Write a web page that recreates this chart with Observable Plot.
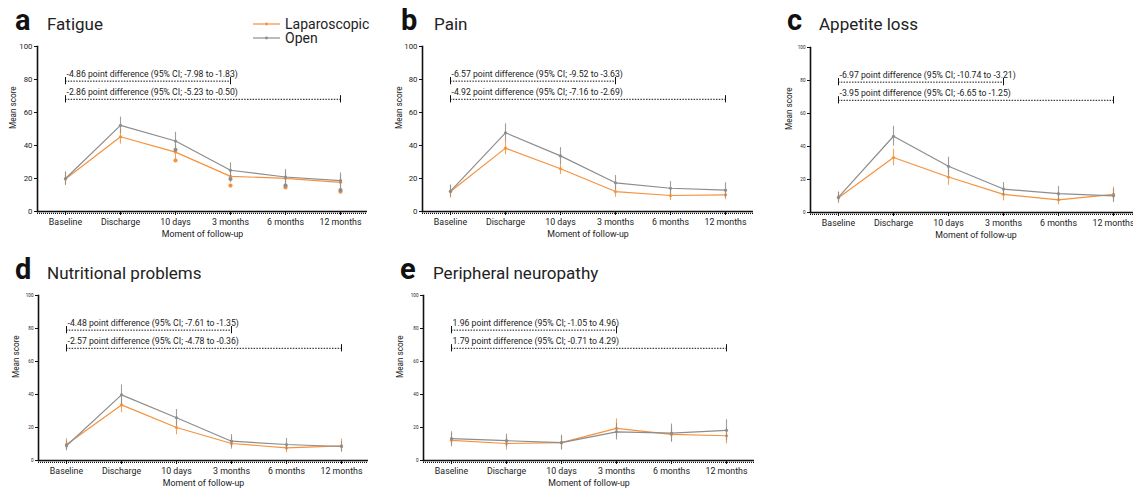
<!DOCTYPE html>
<html><head><meta charset="utf-8">
<script src="https://cdn.jsdelivr.net/npm/d3@7"></script>
<script src="https://cdn.jsdelivr.net/npm/@observablehq/plot@0.6"></script>
<style>
html,body{margin:0;padding:0;background:#fff;overflow:hidden;}
#root{position:relative;width:1133px;height:489px;overflow:hidden;font-family:Roboto,"Noto Sans",sans-serif;}
#root > svg, #root > figure{position:absolute;margin:0;}
</style></head><body><div id="root"></div>
<script>
// ---------- data ----------
const moments = ["Baseline", "Discharge", "10 days", "3 months", "6 months", "12 months"];
const groups = ["Laparoscopic", "Open"];
const groupColors = ["#F5923E", "#8D8D8D"];
const panelLetters = ["a", "b", "c", "d", "e"];
const panelTitles = ["Fatigue", "Pain", "Appetite loss", "Nutritional problems", "Peripheral neuropathy"];
const yTicks = [0, 20, 40, 60, 80, 100];

// Fatigue
const fatigueLap = [19.7, 45.3, 36.0, 21.3, 20.1, 17.7];
const fatigueLapErr = [4, 4.5, 4.5, 4, 4, 4];
const fatigueOpen = [20.0, 52.2, 42.7, 25.0, 20.9, 18.7];
const fatigueOpenErr = [4, 5, 5.3, 4.5, 4.5, 4.7];
const fatigueExtraLap = [null, null, 30.9, 15.7, 14.6, 12.0];
const fatigueExtraOpen = [null, null, 37.4, 19.7, 15.7, 13.0];
// Pain
const painLap = [12.1, 38.4, 25.9, 12.1, 9.7, 10.1];
const painLapErr = [4, 4, 3.5, 3.5, 3, 3];
const painOpen = [12.3, 47.7, 33.7, 17.4, 14.1, 12.9];
const painOpenErr = [3.5, 5.4, 5, 4.4, 4, 4.5];
// Appetite loss
const appetiteLap = [8.9, 33.3, 21.5, 11.0, 7.7, 11.0];
const appetiteLapErr = [3.5, 5, 5, 4, 3, 4.4];
const appetiteOpen = [9.3, 46.2, 28.0, 14.2, 11.4, 10.1];
const appetiteOpenErr = [3, 6, 5.5, 4, 4.4, 4];
// Nutritional problems
const nutritionLap = [9.7, 33.7, 20.0, 10.3, 7.7, 8.9];
const nutritionLapErr = [3.5, 4.8, 4.4, 3.5, 3, 4];
const nutritionOpen = [8.9, 39.8, 25.9, 11.7, 9.7, 8.5];
const nutritionOpenErr = [3, 6, 5, 4, 3.6, 3];
// Peripheral neuropathy
const neuropathyLap = [12.2, 10.3, 10.8, 19.5, 15.8, 15.0];
const neuropathyLapErr = [4, 4, 4, 5.7, 4.5, 5];
const neuropathyOpen = [13.2, 12.0, 10.8, 17.4, 16.6, 18.3];
const neuropathyOpenErr = [4.2, 4, 4.5, 5, 5.5, 6.4];

// difference annotations (upper: baseline to 3 months, lower: baseline to 12 months)
const diffUpper = [
  "-4.86 point difference (95% CI; -7.98 to -1.83)",
  "-6.57 point difference (95% CI; -9.52 to -3.63)",
  "-6.97 point difference (95% CI; -10.74 to -3.21)",
  "-4.48 point difference (95% CI; -7.61 to -1.35)",
  "1.96 point difference (95% CI; -1.05 to 4.96)"
];
const diffLower = [
  "-2.86 point difference (95% CI; -5.23 to -0.50)",
  "-4.92 point difference (95% CI; -7.16 to -2.69)",
  "-3.95 point difference (95% CI; -6.65 to -1.25)",
  "-2.57 point difference (95% CI; -4.78 to -0.36)",
  "1.79 point difference (95% CI; -0.71 to 4.29)"
];
const bracketY = [79, 68];
const bracketEnd = ["3 months", "12 months"];

const panelData = [
  [fatigueLap, fatigueLapErr, fatigueOpen, fatigueOpenErr],
  [painLap, painLapErr, painOpen, painOpenErr],
  [appetiteLap, appetiteLapErr, appetiteOpen, appetiteOpenErr],
  [nutritionLap, nutritionLapErr, nutritionOpen, nutritionOpenErr],
  [neuropathyLap, neuropathyLapErr, neuropathyOpen, neuropathyOpenErr]
];

// ---------- layout ----------
const FONT = "Roboto, 'Noto Sans', sans-serif";
const layout = [
  {left: 0,   top: 40,  ml: 37, fw: 330, tickFont: 7.8, yLabDx: -24},
  {left: 385, top: 40,  ml: 37, fw: 331, tickFont: 7.8, yLabDx: -23},
  {left: 770, top: 41,  ml: 40, fw: 331, tickFont: 4.6, yLabDx: -21},
  {left: 0,   top: 289, ml: 38, fw: 330, tickFont: 4.6, yLabDx: -22},
  {left: 385, top: 289, ml: 38, fw: 331, tickFont: 4.6, yLabDx: -23}
];
const titlePos = [
  {lx: 15, tx: 47, y: 30},
  {lx: 401, tx: 434, y: 30},
  {lx: 787, tx: 819, y: 30},
  {lx: 15, tx: 47, y: 279},
  {lx: 400, tx: 433, y: 279}
];

const root = document.getElementById("root");

function buildRows(i) {
  const [lap, lapErr, open, openErr] = panelData[i];
  const rows = [];
  moments.forEach((m, j) => {
    rows.push({moment: m, group: groups[0], value: lap[j], err: lapErr[j]});
    rows.push({moment: m, group: groups[1], value: open[j], err: openErr[j]});
  });
  return rows;
}

panelData.forEach((_, i) => {
  const L = layout[i];
  const rows = buildRows(i);
  const lapRows = rows.filter(d => d.group === groups[0]);
  const openRows = rows.filter(d => d.group === groups[1]);
  const brackets = [0, 1].map(k => ({
    x1: moments[0], x2: bracketEnd[k], y: bracketY[k],
    label: k === 0 ? diffUpper[i] : diffLower[i]
  }));
  const bracketEnds = brackets.flatMap(b => [{x: b.x1, y: b.y}, {x: b.x2, y: b.y}]);
  const extras = [];
  if (i === 0) {
    moments.forEach((m, j) => {
      if (fatigueExtraLap[j] != null) extras.push({moment: m, group: groups[0], value: fatigueExtraLap[j]});
      if (fatigueExtraOpen[j] != null) extras.push({moment: m, group: groups[1], value: fatigueExtraOpen[j]});
    });
  }
  const marks = [
    Plot.axisY({ticks: yTicks, tickSize: 3, tickPadding: 2, fontSize: L.tickFont, label: null, tickFormat: d => d, fill: "#222"}),
    Plot.axisX({tickSize: 4, tickPadding: 3, fontSize: 8.8, label: null, fill: "#222"}),
    Plot.frame({anchor: "left", strokeWidth: 1.6}),
    Plot.ruleY([0], {strokeWidth: 1.3}),
    Plot.ruleY([0], {dy: 1.8, strokeWidth: 1.2, strokeDasharray: "1 1"}),
    Plot.text(["Mean score"], {frameAnchor: "left", rotate: -90, dx: L.yLabDx, fontSize: 8.2, fill: "#222"}),
    Plot.text(["Moment of follow-up"], {frameAnchor: "bottom", dy: 25, fontSize: 8.8, fill: "#222"}),
    // brackets
    Plot.ruleY(brackets, {x1: "x1", x2: "x2", y: "y", stroke: "#111", strokeWidth: 1, strokeDasharray: "1.5 1.3"}),
    Plot.ruleX(bracketEnds, {x: "x", y1: d => d.y - 2.2, y2: d => d.y + 2.2, stroke: "#111", strokeWidth: 1}),
    Plot.text(brackets, {x: "x1", y: "y", text: "label", textAnchor: "start", dx: 1, dy: -7, fontSize: 8.7, fill: "#222"}),
    // data
    Plot.ruleX(lapRows, {x: "moment", y1: d => d.value - d.err, y2: d => d.value + d.err, stroke: "group", strokeWidth: 1.1, strokeOpacity: 0.85}),
    Plot.line(lapRows, {x: "moment", y: "value", stroke: "group", strokeWidth: 1.2}),
    Plot.dot(lapRows, {x: "moment", y: "value", fill: "group", r: 1.6}),
    Plot.ruleX(openRows, {x: "moment", y1: d => d.value - d.err, y2: d => d.value + d.err, stroke: "group", strokeWidth: 1.1, strokeOpacity: 0.85}),
    Plot.line(openRows, {x: "moment", y: "value", stroke: "group", strokeWidth: 1.2}),
    Plot.dot(openRows, {x: "moment", y: "value", fill: "group", r: 1.6}),
    Plot.dot(extras, {x: "moment", y: "value", fill: "group", r: 2.1})
  ];
  const svg = Plot.plot({
    width: L.ml + L.fw + 4,
    height: 205,
    marginLeft: L.ml,
    marginRight: 4,
    marginTop: 6,
    marginBottom: 34,
    style: {fontFamily: FONT, color: "#111", background: "transparent", overflow: "visible"},
    x: {type: "point", domain: moments, padding: 0.5},
    y: {domain: [0, 100]},
    color: {domain: groups, range: groupColors},
    marks
  });
  svg.style.position = "absolute";
  svg.style.left = L.left + "px";
  svg.style.top = L.top + "px";
  root.appendChild(svg);
});

// ---------- titles and legend overlay ----------
const overlay = d3.select(root).append("svg")
  .attr("width", 1133).attr("height", 489)
  .style("position", "absolute").style("left", 0).style("top", 0)
  .style("pointer-events", "none")
  .style("font-family", FONT);

titlePos.forEach((p, i) => {
  overlay.append("text").attr("x", p.lx).attr("y", p.y)
    .attr("font-size", 29).attr("font-weight", "bold").attr("fill", "#111").text(panelLetters[i]);
  overlay.append("text").attr("x", p.tx).attr("y", p.y)
    .attr("font-size", 17).attr("fill", "#222").text(panelTitles[i]);
});

const legend = overlay.append("g");
groups.forEach((g, k) => {
  const y = 24 + k * 14;
  legend.append("line").attr("x1", 253).attr("x2", 280).attr("y1", y).attr("y2", y)
    .attr("stroke", groupColors[k]).attr("stroke-width", 1.2);
  legend.append("circle").attr("cx", 266.5).attr("cy", y).attr("r", 1.4).attr("fill", groupColors[k]);
  legend.append("text").attr("x", 285).attr("y", y + 4.8)
    .attr("font-size", 14).attr("fill", "#222").text(g);
});
</script>
</body></html>
